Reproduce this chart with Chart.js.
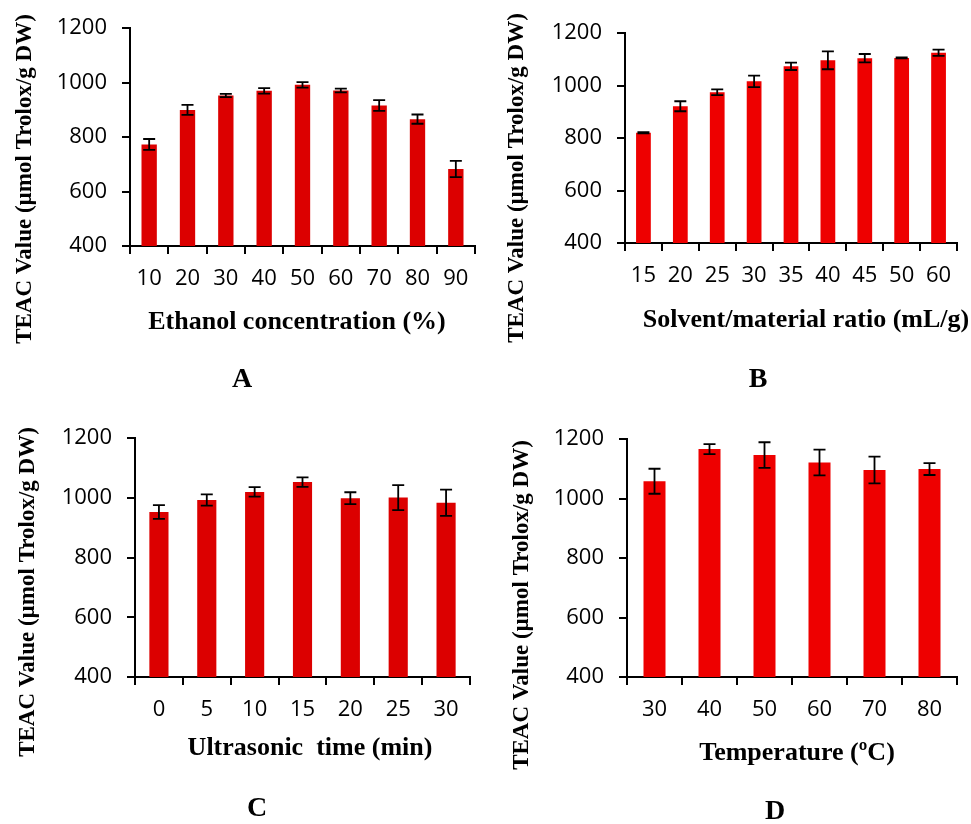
<!DOCTYPE html>
<html>
<head>
<meta charset="utf-8">
<script src="https://cdn.jsdelivr.net/npm/chart.js@4.4.0/dist/chart.umd.min.js"></script>
<style>
  body { margin: 0; background: #fff; }
  #wrap { position: relative; width: 971px; height: 824px; background: #fff; }
  canvas { position: absolute; }
</style>
</head>
<body>
<div id="wrap">
  <canvas id="chartA" width="485" height="410" style="left:0;top:0"></canvas>
  <canvas id="chartB" width="486" height="410" style="left:485px;top:0"></canvas>
  <canvas id="chartC" width="485" height="414" style="left:0;top:410px"></canvas>
  <canvas id="chartD" width="486" height="414" style="left:485px;top:410px"></canvas>
</div>
<script>
// values (TEAC, µmol Trolox/g DW) and error bar half-heights
const ethanolLabels = ["10", "20", "30", "40", "50", "60", "70", "80", "90"];
const ethanolTeac = [773, 900, 953, 970, 992, 971, 916, 866, 683];
const ethanolErr = [20, 18, 6, 10, 10, 7, 20, 17, 30];

const ratioLabels = ["15", "20", "25", "30", "35", "40", "45", "50", "60"];
const ratioTeac = [820, 921, 974, 1016, 1073, 1096, 1104, 1105, 1125];
const ratioErr = [2, 19, 11, 22, 14, 34, 16, 2, 12];

const timeLabels = ["0", "5", "10", "15", "20", "25", "30"];
const timeTeac = [953, 993, 1020, 1053, 999, 1001, 984];
const timeErr = [23, 19, 16, 16, 20, 42, 44];

const tempLabels = ["30", "40", "50", "60", "70", "80"];
const tempTeac = [1058, 1166, 1146, 1121, 1096, 1099];
const tempErr = [42, 17, 43, 43, 45, 20];

const yTicks = [400, 600, 800, 1000, 1200];
const yTitle = "TEAC Value (µmol Trolox/g DW)";

const tickFont = { family: "Open Sans", size: 22 };
const xTitleFont = 'bold 26px "Liberation Serif"';
const yTitleFont = 'bold 23px "Liberation Serif"';
const letterFont = 'bold 28px "Liberation Serif"';

// error bars, drawn from the y scale
const errorBars = {
    id: "errorBars",
    afterDatasetsDraw(chart, args, opts) {
        const ctx = chart.ctx;
        const y = chart.scales.y;
        const values = chart.data.datasets[0].data;
        ctx.save();
        ctx.strokeStyle = "#000";
        ctx.lineWidth = 1.8;
        chart.getDatasetMeta(0).data.forEach((bar, i) => {
            const top = y.getPixelForValue(values[i] + opts.errors[i]);
            const bot = y.getPixelForValue(values[i] - opts.errors[i]);
            ctx.beginPath();
            ctx.moveTo(bar.x, top);
            ctx.lineTo(bar.x, bot);
            ctx.moveTo(bar.x - 6, top);
            ctx.lineTo(bar.x + 6, top);
            ctx.moveTo(bar.x - 6, bot);
            ctx.lineTo(bar.x + 6, bot);
            ctx.stroke();
        });
        ctx.restore();
    },
};

// axis titles and panel letter
const panelText = {
    id: "panelText",
    afterDraw(chart, args, o) {
        const ctx = chart.ctx;
        ctx.save();
        ctx.fillStyle = "#000";
        ctx.textAlign = "center";
        ctx.textBaseline = "middle";
        ctx.font = xTitleFont;
        ctx.fillText(o.xTitle, o.xTitleAt[0], o.xTitleAt[1]);
        ctx.font = letterFont;
        ctx.fillText(o.letter, o.letterAt[0], o.letterAt[1]);
        ctx.font = yTitleFont;
        ctx.translate(o.yTitleAt[0], o.yTitleAt[1]);
        ctx.rotate(-Math.PI / 2);
        ctx.fillText(yTitle, 0, 0);
        ctx.restore();
    },
};

function makeChart(id, labels, values, errors, color, area, text) {
    const canvas = document.getElementById(id);
    const H = canvas.height;
    const W = canvas.width;
    const xHeight = 40;
    return new Chart(canvas, {
        type: "bar",
        data: {
            labels: labels,
            datasets: [
                {
                    data: values,
                    backgroundColor: color,
                    borderWidth: 0,
                    barPercentage: 0.4,
                    categoryPercentage: 1,
                },
            ],
        },
        options: {
            responsive: false,
            animation: false,
            layout: {
                padding: {
                    left: 0,
                    top: area.top,
                    right: W - area.right,
                    bottom: H - area.bottom - xHeight,
                },
            },
            scales: {
                x: {
                    afterFit: (s) => { s.height = xHeight; },
                    grid: {
                        offset: true,
                        drawOnChartArea: false,
                        drawTicks: true,
                        tickLength: 8,
                        color: "#000",
                        lineWidth: 2,
                    },
                    border: { display: true, color: "#000", width: 2 },
                    ticks: { font: tickFont, color: "#000", padding: 12, maxRotation: 0, autoSkip: false },
                },
                y: {
                    min: yTicks[0],
                    max: yTicks[yTicks.length - 1],
                    afterFit: (s) => { s.width = area.left; },
                    afterBuildTicks: (s) => { s.ticks = yTicks.map((v) => ({ value: v })); },
                    grid: {
                        drawOnChartArea: false,
                        drawTicks: true,
                        tickLength: 8,
                        color: "#000",
                        lineWidth: 2,
                    },
                    border: { display: true, color: "#000", width: 2 },
                    ticks: {
                        font: tickFont,
                        color: "#000",
                        padding: 15,
                        callback: (v) => String(v),
                    },
                },
            },
            plugins: {
                legend: { display: false },
                tooltip: { enabled: false },
                errorBars: { errors: errors },
                panelText: text,
            },
        },
        plugins: [errorBars, panelText],
    });
}

Promise.all([
    document.fonts.load("22px 'Open Sans'"),
    document.fonts.load(xTitleFont),
]).finally(() => {
    makeChart("chartA", ethanolLabels, ethanolTeac, ethanolErr, "#dc0000",
        { left: 130, right: 475, top: 28, bottom: 246 },
        { xTitle: "Ethanol concentration (%)", xTitleAt: [297, 322], letter: "A", letterAt: [242, 380], yTitleAt: [25, 179] });

    makeChart("chartB", ratioLabels, ratioTeac, ratioErr, "#ee0000",
        { left: 140, right: 472, top: 33, bottom: 243 },
        { xTitle: "Solvent/material ratio (mL/g)", xTitleAt: [321, 320], letter: "B", letterAt: [273, 380], yTitleAt: [32, 178] });

    makeChart("chartC", timeLabels, timeTeac, timeErr, "#dc0000",
        { left: 135, right: 470, top: 21, bottom: 267 },
        { xTitle: "Ultrasonic  time (min)", xTitleAt: [310, 338], letter: "C", letterAt: [257, 399], yTitleAt: [28, 182] });

    makeChart("chartD", tempLabels, tempTeac, tempErr, "#ee0000",
        { left: 142, right: 472, top: 29, bottom: 267 },
        { xTitle: "Temperature (ºC)", xTitleAt: [312, 343], letter: "D", letterAt: [290, 402], yTitleAt: [37, 195] });
});
</script>
</body>
</html>
